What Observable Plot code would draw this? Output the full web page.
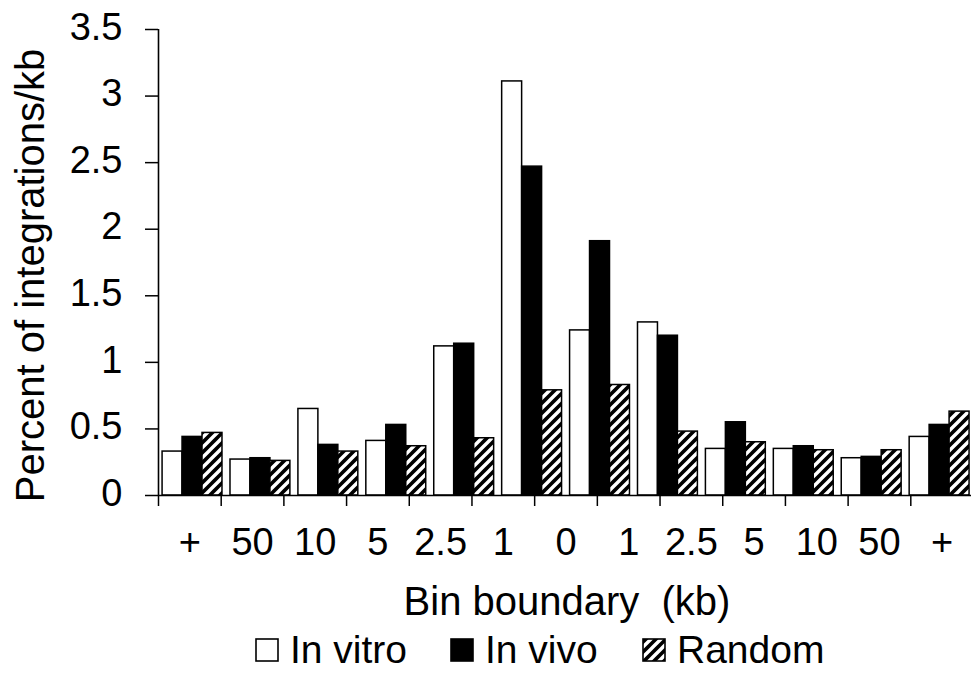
<!DOCTYPE html>
<html><head><meta charset="utf-8">
<script src="https://cdn.jsdelivr.net/npm/d3@7"></script>
<script src="https://cdn.jsdelivr.net/npm/@observablehq/plot@0.6"></script>
<style>
body{margin:0;background:#fff;font-family:"Liberation Sans",Arial,sans-serif;}
#legend{position:relative;height:45px;width:971px;}
.item{position:absolute;top:0;display:flex;align-items:center;font-size:39px;line-height:39px;color:#000;white-space:nowrap;}
.item svg{margin-right:11px;}
</style></head><body>
<svg width="0" height="0" style="position:absolute"><defs>
<pattern id="hatch" patternUnits="userSpaceOnUse" width="10" height="10">
<rect width="10" height="10" fill="#000"/>
<path d="M-2,2 L2,-2 M0,10 L10,0 M8,12 L12,8" stroke="#fff" stroke-width="3.4"/>
</pattern></defs></svg>
<div id="chart"></div>
<div id="legend"></div>
<script>
// ---- data ----
const boundaryLabels = ["+", "50", "10", "5", "2.5", "1", "0", "1", "2.5", "5", "10", "50", "+"];
const seriesNames = ["In vitro", "In vivo", "Random"];
const inVitro = [0.33, 0.27, 0.65, 0.41, 1.12, 3.11, 1.24, 1.30, 0.35, 0.35, 0.28, 0.44];
const inVivo  = [0.44, 0.28, 0.38, 0.53, 1.14, 2.47, 1.91, 1.20, 0.55, 0.37, 0.29, 0.53];
const random  = [0.47, 0.26, 0.33, 0.37, 0.43, 0.79, 0.83, 0.48, 0.40, 0.34, 0.34, 0.63];
const yTicks = [0, 0.5, 1, 1.5, 2, 2.5, 3, 3.5];
const yTitle = "Percent of integrations/kb";
const xTitle = "Bin boundary  (kb)";

// ---- build ----
const fills = ["#fff", "#000", "url(#hatch)"];
const allSeries = [inVitro, inVivo, random];
const rows = [];
allSeries.forEach((vals, si) => vals.forEach((v, i) => rows.push({bin: i, si, v})));
const nBins = inVitro.length;
const groupPad = 0.06, barW = 0.294;
const x1 = d => d.bin + groupPad + d.si * barW;
const x2 = d => d.bin + groupPad + (d.si + 1) * barW;
const step = nBins / boundaryLabels.length;
const boundaries = d3.range(boundaryLabels.length + 1).map(k => k * step);
const centers = d3.range(boundaryLabels.length).map(k => (k + 0.5) * step);

const chart = Plot.plot({
  width: 971, height: 630,
  marginLeft: 158, marginRight: 0, marginTop: 29, marginBottom: 135,
  x: {domain: [0, nBins], range: [158, 973]},
  y: {domain: [0, 3.5], range: [495, 29]},
  style: {fontFamily: '"Liberation Sans", Arial, sans-serif', color: "#000", background: "#fff"},
  marks: [
    ...allSeries.map((_, si) => Plot.rect(rows.filter(r => r.si === si), {
      x1, x2, y1: 0, y2: "v", fill: fills[si], stroke: "#000", strokeWidth: 1.5
    })),
    Plot.ruleY([0], {stroke: "#000", strokeWidth: 1.6}),
    Plot.ruleX([0], {y1: 0, y2: 3.5, stroke: "#000", strokeWidth: 1.6}),
    Plot.axisY({ticks: yTicks, tickSize: 13, label: null, tickFormat: () => "",
      stroke: "#000", strokeWidth: 1.5}),
    Plot.axisY({ticks: yTicks, tickSize: 0, tickPadding: 36, fontSize: 38, label: null, dy: -2,
      tickFormat: d => String(d)}),
    Plot.axisX({ticks: boundaries, tickSize: 11, tickFormat: () => "", label: null,
      stroke: "#000", strokeWidth: 1.5}),
    Plot.axisX({ticks: centers, tickSize: 0, tickPadding: 33, fontSize: 38, label: null,
      tickFormat: d => boundaryLabels[centers.indexOf(d)]}),
    Plot.text([xTitle], {frameAnchor: "bottom", textAnchor: "middle", lineAnchor: "middle",
      dx: 2, dy: 107, fontSize: 40, fill: "#000"}),
    Plot.text([yTitle], {frameAnchor: "left", textAnchor: "middle", lineAnchor: "middle",
      rotate: -90, dx: -127, dy: 13, fontSize: 40, fill: "#000"})
  ]
});
document.getElementById("chart").append(chart);

// ---- legend ----
const legend = document.getElementById("legend");
const legendX = [255, 450, 642];
seriesNames.forEach((name, si) => {
  const item = document.createElement("div");
  item.className = "item";
  item.style.left = legendX[si] + "px";
  item.innerHTML = `<svg width="24" height="24"><rect x="1" y="1" width="22" height="22" fill="${fills[si]}" stroke="#000" stroke-width="1.6"/></svg><span>${name}</span>`;
  legend.append(item);
});
</script>
</body></html>
